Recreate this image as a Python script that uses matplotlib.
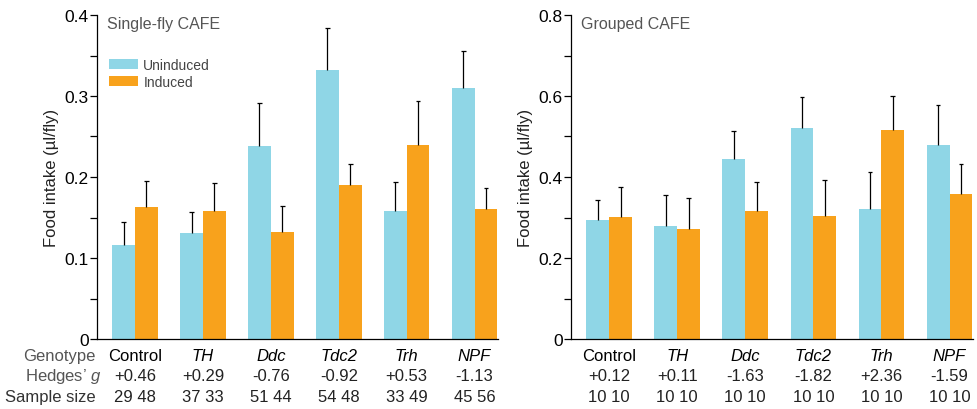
import matplotlib
matplotlib.use("Agg")
import matplotlib.pyplot as plt
import numpy as np

plt.rcParams['font.family'] = ['Liberation Sans', 'DejaVu Sans']
plt.rcParams['mathtext.fontset'] = 'custom'
plt.rcParams['mathtext.it'] = 'Liberation Sans:italic'

# data
genotypes = ['Control', 'TH', 'Ddc', 'Tdc2', 'Trh', 'NPF']

single_un = [0.116, 0.131, 0.238, 0.332, 0.158, 0.310]
single_un_err = [0.029, 0.026, 0.053, 0.052, 0.036, 0.045]
single_in = [0.163, 0.158, 0.132, 0.190, 0.240, 0.161]
single_in_err = [0.032, 0.035, 0.032, 0.026, 0.054, 0.025]
single_g = ['+0.46', '+0.29', '-0.76', '-0.92', '+0.53', '-1.13']
single_n = ['29 48', '37 33', '51 44', '54 48', '33 49', '45 56']

group_un = [0.294, 0.280, 0.445, 0.521, 0.321, 0.479]
group_un_err = [0.049, 0.075, 0.068, 0.076, 0.091, 0.098]
group_in = [0.302, 0.272, 0.317, 0.304, 0.516, 0.358]
group_in_err = [0.073, 0.076, 0.070, 0.088, 0.083, 0.074]
group_g = ['+0.12', '+0.11', '-1.63', '-1.82', '+2.36', '-1.59']
group_n = ['10 10', '10 10', '10 10', '10 10', '10 10', '10 10']

c_un = '#8fd6e6'
c_in = '#f8a21c'
w = 0.335
cap = 0.035


def upper_err(ax, xs, ys, errs):
    tops = np.array(ys) + np.array(errs)
    ax.vlines(xs, ys, tops, color='black', lw=0.9)
    ax.hlines(tops, xs - cap, xs + cap, color='black', lw=0.9)


def panel(ax, un, un_err, inn, inn_err, ymax, title, g, n, row_labels):
    x = np.arange(len(genotypes))
    ax.bar(x - w / 2, un, w, color=c_un, label='Uninduced')
    ax.bar(x + w / 2, inn, w, color=c_in, label='Induced')
    upper_err(ax, x - w / 2, un, un_err)
    upper_err(ax, x + w / 2, inn, inn_err)
    ax.set_xlim(-0.56, len(genotypes) - 1 + w + 0.01)
    ax.set_ylim(0, ymax)
    step = ymax / 4
    ax.set_yticks(np.arange(0, ymax + step / 2, step))
    ax.set_yticks(np.arange(step / 2, ymax, step), minor=True)
    ax.set_yticklabels(['0'] + ['%g' % v for v in np.arange(step, ymax + step / 2, step)])
    ax.set_xticks([])
    for s in ['top', 'right']:
        ax.spines[s].set_visible(False)
    ax.spines['left'].set_linewidth(0.9)
    ax.spines['bottom'].set_linewidth(0.9)
    ax.tick_params(axis='y', which='both', length=5, width=0.9, labelsize=12.5, pad=1)
    ax.set_ylabel('Food intake (µl/fly)', fontsize=12, color='#222222', labelpad=4)
    ax.text(0.025, 0.975, title, transform=ax.transAxes, fontsize=11.5,
            color='#555555', ha='left', va='center')

    tr = ax.get_xaxis_transform()
    for i, name in enumerate(genotypes):
        style = 'normal' if name == 'Control' else 'italic'
        ax.text(i, -0.052, name, transform=tr, ha='center', va='center',
                fontsize=12, style=style, color='black')
        ax.text(i, -0.114, g[i], transform=tr, ha='center', va='center',
                fontsize=12, color='#222222')
        ax.text(i, -0.179, n[i], transform=tr, ha='center', va='center',
                fontsize=12, color='#222222')
    if row_labels:
        ax.text(-0.003, -0.052, 'Genotype', transform=ax.transAxes, ha='right',
                va='center', fontsize=12, color='#555555')
        ax.text(0.012, -0.114, 'Hedges\u2019 $g$', transform=ax.transAxes, ha='right',
                va='center', fontsize=12, color='#555555')
        ax.text(-0.003, -0.179, 'Sample size', transform=ax.transAxes, ha='right',
                va='center', fontsize=12, color='#333333')


fig = plt.figure(figsize=(9.77, 4.10), dpi=100)
ax1 = fig.add_axes([97 / 977, 70 / 410, 401 / 977, 324 / 410])
ax2 = fig.add_axes([571 / 977, 70 / 410, 402 / 977, 324 / 410])

panel(ax1, single_un, single_un_err, single_in, single_in_err, 0.4,
      'Single-fly CAFE', single_g, single_n, True)
panel(ax2, group_un, group_un_err, group_in, group_in_err, 0.8,
      'Grouped CAFE', group_g, group_n, False)

ax1.legend(loc='upper left', bbox_to_anchor=(0.015, 0.884), frameon=False,
           fontsize=10, handlelength=2.1, handleheight=0.75, handletextpad=0.4,
           labelspacing=0.2, borderaxespad=0)
for t in ax1.get_legend().get_texts():
    t.set_color('#444444')

fig.savefig('out.png', dpi=100)
